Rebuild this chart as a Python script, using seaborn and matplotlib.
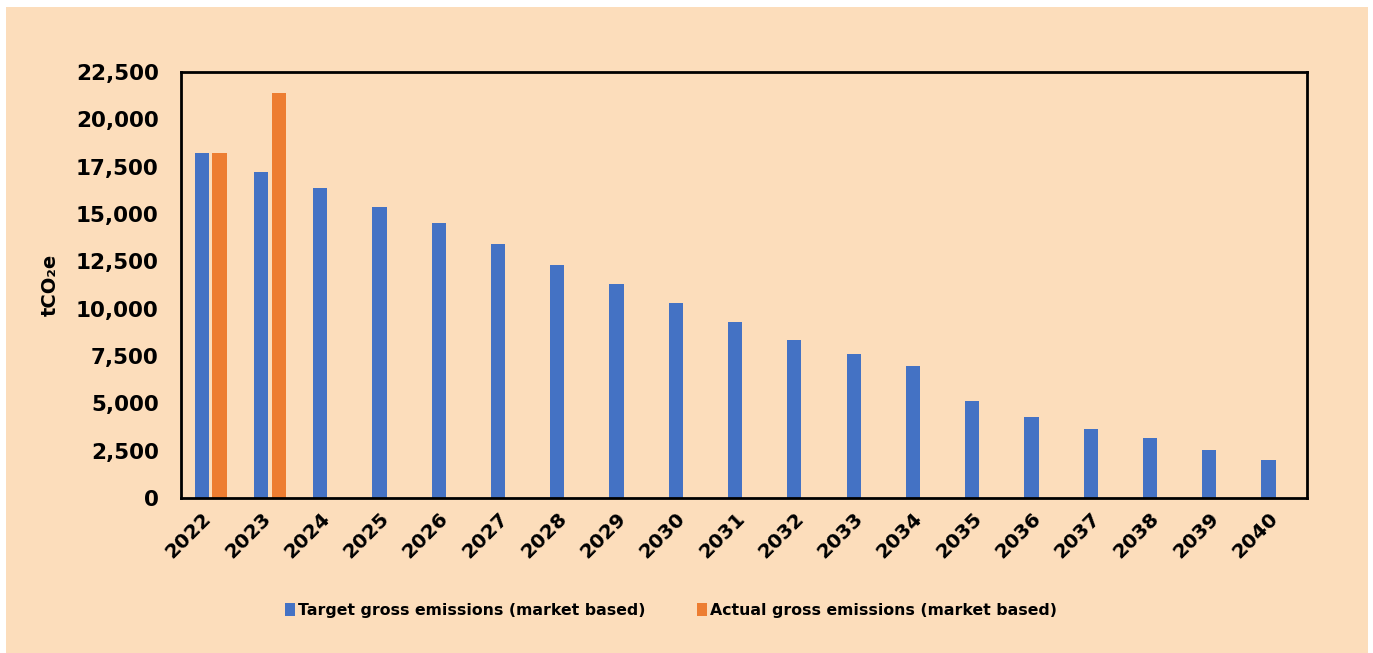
import matplotlib
matplotlib.use("Agg")
import matplotlib.pyplot as plt
import matplotlib.transforms as mtrans
import seaborn as sns
import pandas as pd
from matplotlib.patches import Rectangle
from matplotlib.ticker import FuncFormatter

years = [str(y) for y in range(2022, 2041)]
target = [18200, 17200, 16350, 15350, 14500, 13400, 12300, 11300, 10300, 9300,
          8350, 7600, 6950, 5120, 4270, 3640, 3170, 2530, 2000]
actual_years = ["2022", "2023"]
actual = [18200, 21400]
series_names = ["Target gross emissions (market based)", "Actual gross emissions (market based)"]
colors = ["#4472C4", "#ED7D31"]

rows = [{"year": y, "value": v, "series": series_names[0]} for y, v in zip(years, target)]
rows += [{"year": y, "value": v, "series": series_names[1]} for y, v in zip(actual_years, actual)]
df = pd.DataFrame(rows)

sns.set_style("white")
plt.rcParams["text.color"] = "black"
plt.rcParams["xtick.color"] = "black"
plt.rcParams["ytick.color"] = "black"
plt.rcParams["axes.labelcolor"] = "black"
bg = "#FCDDBB"
fig = plt.figure(figsize=(13.73, 6.53), dpi=100)
fig.patch.set_facecolor("white")
fig.patches.append(Rectangle((6/1373, 0), (1368-6)/1373, 1-7/653, transform=fig.transFigure,
                             facecolor=bg, edgecolor="none", zorder=-10))
ax = fig.add_axes([181/1373, 1-498/653, (1307-181)/1373, (498-72)/653])
ax.set_facecolor(bg)

sns.barplot(data=df, x="year", y="value", hue="series", order=years, hue_order=series_names,
            palette=colors, width=0.6, gap=0.2, ax=ax, saturation=1, legend=False,
            linewidth=0, edgecolor="none")

ax.set_ylim(0, 22500)
ax.set_yticks(range(0, 22501, 2500))
ax.yaxis.set_major_formatter(FuncFormatter(lambda v, p: f"{int(v):,}"))
ax.set_xlim(-0.5, len(years)-0.5)
for s in ax.spines.values():
    s.set_color("black")
    s.set_linewidth(2)
ax.tick_params(axis="y", length=0, labelsize=15.5, pad=16, labelcolor="black")
for lbl in ax.get_yticklabels():
    lbl.set_fontweight("bold")
ax.set_xticks(range(len(years)))
ax.set_xticklabels(years, rotation=45, ha="right", rotation_mode="anchor",
                   fontsize=14.5, fontweight="bold", color="black")
ax.tick_params(axis="x", length=0, pad=8)
off = mtrans.ScaledTranslation(-9/100, 0, fig.dpi_scale_trans)
for lbl in ax.get_xticklabels():
    lbl.set_transform(lbl.get_transform() + off)
ax.set_xlabel("")
ax.set_ylabel("tCO₂e", fontsize=14, fontweight="bold", color="black")
ax.yaxis.set_label_coords(-0.108, 0.5)

handles = [Rectangle((0, 0), 1, 1, facecolor=c, edgecolor="none") for c in colors]
fig.legend(handles, series_names, loc="center", bbox_to_anchor=(671/1373, 1-610/653),
           ncol=2, frameon=False, handlelength=0.6, handleheight=0.9, handletextpad=0.2,
           columnspacing=3.3, prop={"size": 11.3, "weight": "bold"})

fig.savefig("out.png", dpi=100, facecolor=fig.get_facecolor())
